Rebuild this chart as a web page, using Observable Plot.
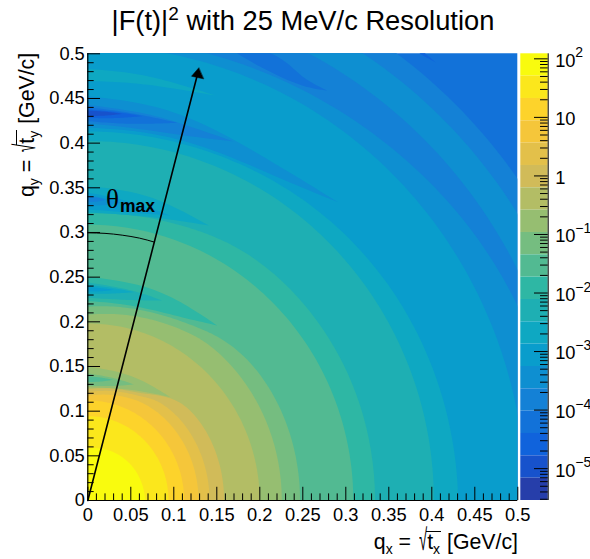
<!DOCTYPE html>
<html><head><meta charset="utf-8">
<script src="https://cdn.jsdelivr.net/npm/d3@7"></script>
<script src="https://cdn.jsdelivr.net/npm/@observablehq/plot@0.6"></script>
<style>
html,body{margin:0;padding:0;background:#fff}
#w{position:relative;width:590px;height:559px;overflow:hidden;font-family:"Liberation Sans",Arial,sans-serif;color:#000}
#w svg{position:absolute;left:0;top:0;background:none;overflow:visible}
.t{position:absolute;white-space:nowrap;line-height:1}
sub,sup{line-height:0}
.rt{display:inline-block;transform:scale(.62,1.25);transform-origin:100% 60%;font-size:24px;margin-left:-3px;margin-right:-1px;font-weight:normal}
.ol{display:inline-block;border-top:1px solid #000;padding:0 1px;line-height:1}
</style></head><body><div id="w"></div>
<script>
// ROOT kBird palette stops
const birdR=[.2082,.0592,.0780,.0232,.1802,.5301,.8186,.9956,.9764];
const birdG=[.1664,.3599,.5041,.6419,.7178,.7492,.7328,.7862,.9832];
const birdB=[.5293,.8684,.8385,.7914,.6425,.4662,.3499,.1968,.0539];
const bird=d3.scaleLinear().domain(d3.range(9).map(i=>i/8)).range(birdR.map((r,i)=>`rgb(${r*255},${birdG[i]*255},${birdB[i]*255})`));
const bandIds=d3.range(20);               // 0 = top of the colour bar
const palette=bandIds.map(b=>bird((20-b)/20));
const logEdges=[2.086,1.7045,1.323,.9415,.56,.1785,-.203,-.5845,-.966,-1.3475,-1.729,-2.1105,-2.492,-2.8735,-3.255,-3.6365,-4.018,-4.3995,-4.781,-5.1625,-5.544];

// circular contours, outermost first: [band, [[polar angle in degrees, radius], ...]]
const rings=[
 [16,[[-2,.9],[92,.9]]],
 [15,[[-2,.616],[92,.616]]],
 [14,[[-2,.594],[92,.594]]],
 [15,[[-2,.5625],[92,.5625]]],
 [14,[[-2,.555],[25,.546],[45,.531],[65,.52],[92,.517]]],
 [13,[[-2,.509],[92,.509]]],
 [12,[[-2,.431],[41,.4244],[69,.4135],[92,.4131]]],
 [11,[[-2,.4024],[92,.4024]]],
 [10,[[-2,.334],[45,.334],[59,.3327],[72,.3248],[92,.3209]]],
 [9,[[-2,.3087],[92,.3087]]],
 [8,[[-2,.2468],[43,.2468],[56.5,.2304],[72,.2218],[92,.2164]]],
 [7,[[-2,.2256],[50,.2256],[57,.2215],[71,.2148],[92,.2071]]],
 [6,[[-2,.2],[92,.198]]],
 [5,[[-2,.1585],[40,.1585],[50,.15],[60,.137],[68,.131],[92,.124]]],
 [4,[[-2,.1415],[50,.1415],[60,.133],[67,.129],[92,.1205]]],
 [3,[[-2,.1287],[52,.1287],[67,.1245],[92,.1165]]],
 [2,[[-2,.112],[92,.112]]],
 [1,[[-2,.0938],[92,.0945]]],
 [0,[[-2,.0668],[45,.064],[92,.058]]]
];

// petal shaped contours near the y axis: [band, outline; its rightmost point is the tip]
const petals=[
 // r ~ 0.13
 [7,[[-.01,.1511],[.0496,.1437],[.0961,.1157],[.0496,.1255],[-.01,.127]]],
 [8,[[-.01,.1437],[.0302,.138],[.0535,.1299],[.0302,.1276],[-.01,.1287]]],
 [9,[[-.01,.1399],[.0147,.1381],[.029,.1351],[.0147,.1325],[-.01,.1328]]],
 // r ~ 0.24
 [10,[[-.01,.2519],[.069,.2425],[.1194,.2164],[.1504,.1959],[.1078,.2052],[.0496,.2201],[-.01,.2239]]],
 [11,[[-.01,.2455],[.0496,.2369],[.0864,.2239],[.0496,.2239],[-.01,.2276]]],
 [12,[[-.01,.2425],[.0302,.2381],[.0535,.2332],[.0302,.2313],[-.01,.2313]]],
 [13,[[-.01,.2396],[.0147,.2381],[.0302,.2358],[.0147,.2336],[-.01,.2343]]],
 // r ~ 0.34
 [12,[[-.01,.3526],[.069,.3463],[.1407,.3078],[.069,.319],[-.01,.3228]]],
 [13,[[-.01,.3463],[.0419,.3377],[.0961,.319],[.0419,.3228],[-.01,.3265]]],
 [14,[[-.01,.3433],[.0147,.3396],[.04,.3332],[.0147,.3295],[-.01,.331]]],
 [15,[[-.01,.3414],[.0109,.3396],[.0205,.3366],[.0109,.334],[-.01,.334]]],
 // r ~ 0.44
 [14,[[-.01,.4534],[.069,.4459],[.1465,.4198],[.2907,.334],[.224,.36],[.1465,.3937],[.069,.4142],[-.01,.4179]]],
 [15,[[-.01,.444],[.069,.4347],[.1271,.416],[.1698,.4019],[.1078,.4086],[.0496,.4179],[-.01,.4228]]],
 [16,[[-.01,.4414],[.0496,.4347],[.1039,.4228],[.0496,.4205],[-.01,.4254]]],
 [17,[[-.01,.4384],[.0302,.4358],[.0632,.4302],[.0302,.4272],[-.01,.4287]]],
 [18,[[-.01,.4366],[.0186,.4358],[.04,.4328],[.0186,.4302],[-.01,.4306]]],
 // lighter lobe at r ~ 0.47
 [12,[[-.01,.4836],[.05,.48],[.1,.468],[.1485,.4533],[.09,.4628],[.05,.468],[-.01,.47]]],
 // r ~ 0.54 and r ~ 0.63
 [16,[[.15,.52],[.225,.5],[.2468,.4735],[.2784,.4589],[.2468,.4623],[.17,.5],[.15,.52]]],
 [17,[[.37,.52],[.3927,.5],[.4043,.4906],[.385,.5],[.36,.52]]]
];

const arrowShaft=[[0,0],[.1278,.478]];
const arrowHead=[[.1289,.4842],[.1206,.4749],[.1345,.472]];
const thetaArc=[[0,.2996],[.02,.2990],[.04,.2970],[.06,.2937],[.0775,.2892]];

const xMajor=d3.range(0,.5001,.05).map(v=>+v.toFixed(2));
const xMinor=d3.range(0,.5001,.01).map(v=>+v.toFixed(2)).filter(v=>!xMajor.includes(v));

const smooth=(pts,n)=>{const a=d3.interpolateBasis(pts.map(p=>p[0])),b=d3.interpolateBasis(pts.map(p=>p[1]));return d3.range(n+1).map(i=>[a(i/n),b(i/n)]);};
const ringPts=rings.flatMap(([b,prof],i)=>[{x:0,y:0,z:i,b}].concat(smooth(prof,80).map(([a,r])=>({x:r*Math.cos(a*Math.PI/180),y:r*Math.sin(a*Math.PI/180),z:i,b}))));
const petalPts=petals.flatMap(([b,p],i)=>{
  const tip=d3.maxIndex(p,q=>q[0]);
  const out=smooth(p.slice(0,tip+1),30).concat(smooth(p.slice(tip),30));
  return out.map(([x,y])=>({x,y,z:i,b}));
});
const pair=a=>a.map(([x,y])=>({x,y}));

const FONT='"Liberation Sans",Arial,sans-serif';
const main=Plot.plot({
  width:590,height:559,marginLeft:87.3,marginRight:72.7,marginTop:53.3,marginBottom:59,
  style:{fontFamily:FONT,fontSize:"18.3px",color:"#000",background:"none"},
  x:{domain:[0,.5],axis:null},y:{domain:[0,.5],axis:null},
  color:{type:"ordinal",domain:bandIds,range:palette},
  marks:[
    Plot.line(ringPts,{x:"x",y:"y",z:"z",fill:"b",stroke:"none",curve:"linear",clip:"frame"}),
    Plot.line(petalPts,{x:"x",y:"y",z:"z",fill:"b",stroke:"none",curve:"linear-closed",clip:"frame"}),
    Plot.line(pair(thetaArc),{x:"x",y:"y",stroke:"#000",strokeWidth:1,curve:"natural"}),
    Plot.line(pair(arrowShaft),{x:"x",y:"y",stroke:"#000",strokeWidth:1.6}),
    Plot.line(pair(arrowHead),{x:"x",y:"y",fill:"#000",stroke:"#000",strokeWidth:.5,curve:"linear-closed"}),
    Plot.ruleX(xMajor,{y1:0,y2:.0148,stroke:"#000",strokeWidth:1}),
    Plot.ruleX(xMinor,{y1:0,y2:.0074,stroke:"#000",strokeWidth:1}),
    Plot.ruleY(xMajor,{x1:0,x2:.0148,stroke:"#000",strokeWidth:1}),
    Plot.ruleY(xMinor,{x1:0,x2:.0074,stroke:"#000",strokeWidth:1}),
    Plot.ruleX([0],{stroke:"#000",strokeWidth:1.2}),
    Plot.ruleY([0],{stroke:"#000",strokeWidth:1.2}),
    Plot.axisX({ticks:xMajor,tickSize:0,tickPadding:7,tickFormat:d=>String(d),label:null}),
    Plot.axisY({ticks:xMajor,tickSize:0,tickPadding:3,tickFormat:d=>String(d),label:null})
  ]
});

// colour bar
const bands=bandIds.map(b=>({b,hi:10**logEdges[b],lo:10**logEdges[b+1]}));
const decades=[2,1,0,-1,-2,-3,-4,-5];
const barMajor=decades.map(k=>10**k);
const barMinor=d3.range(-6,2).flatMap(k=>[2,3,4,5,6,7,8,9].map(m=>m*10**k)).filter(v=>v>10**logEdges[20]&&v<10**logEdges[0]);
const barBase=["10","10","1","10","10","10","10","10"];
const barExp=["2","","","−1","−2","−3","−4","−5"];
const barLabels=decades.map((k,i)=>({v:10**k,base:barBase[i],exp:barExp[i]}));
const bar=Plot.plot({
  width:590,height:559,marginLeft:520.3,marginRight:42.3,marginTop:53.3,marginBottom:59,
  style:{fontFamily:FONT,fontSize:"18.3px",color:"#000",background:"none"},
  x:{domain:[0,1],axis:null},
  y:{type:"log",domain:[10**logEdges[20],10**logEdges[0]],axis:null},
  color:{type:"ordinal",domain:bandIds,range:palette},
  marks:[
    Plot.rect(bands,{x1:()=>0,x2:()=>1,y1:"lo",y2:"hi",fill:"b"}),
    Plot.ruleY(barMajor,{x1:.5,x2:1,stroke:"#000",strokeWidth:1}),
    Plot.ruleY(barMinor,{x1:.72,x2:1,stroke:"#000",strokeWidth:1}),
    Plot.ruleX([1],{stroke:"#000",strokeWidth:1}),
    Plot.text(barLabels,{x:()=>1,y:"v",text:"base",textAnchor:"start",dx:7,dy:2,fontSize:18.3}),
    Plot.text(barLabels,{x:()=>1,y:"v",text:"exp",textAnchor:"start",dx:27,dy:-6,fontSize:14})
  ]
});
const w=document.getElementById("w");
w.append(main,bar);
const addT=(html,css)=>{const d=document.createElement("div");d.className="t";d.style.cssText=css;d.innerHTML=html;w.append(d);};
addT('|F(t)|<sup style="font-size:19px">2</sup> with 25 MeV/c Resolution','left:0;width:606px;text-align:center;top:7px;font-size:27.3px');
const lab=v=>`q<sub style="font-size:14px">${v}</sub> = <span class="rt">√</span><span class="ol">t<sub style="font-size:14px">${v}</sub></span> [GeV/c]`;
addT(lab("x"),'right:72px;top:529px;font-size:21.3px');
addT(lab("y"),'left:14px;top:197px;font-size:21.3px;transform-origin:0 0;transform:rotate(-90deg)');
addT('θ','left:106px;top:186px;font-size:27px;font-family:"Liberation Serif",serif');
addT('max','left:120px;top:198px;font-size:17.5px;font-weight:bold');
</script></body></html>
